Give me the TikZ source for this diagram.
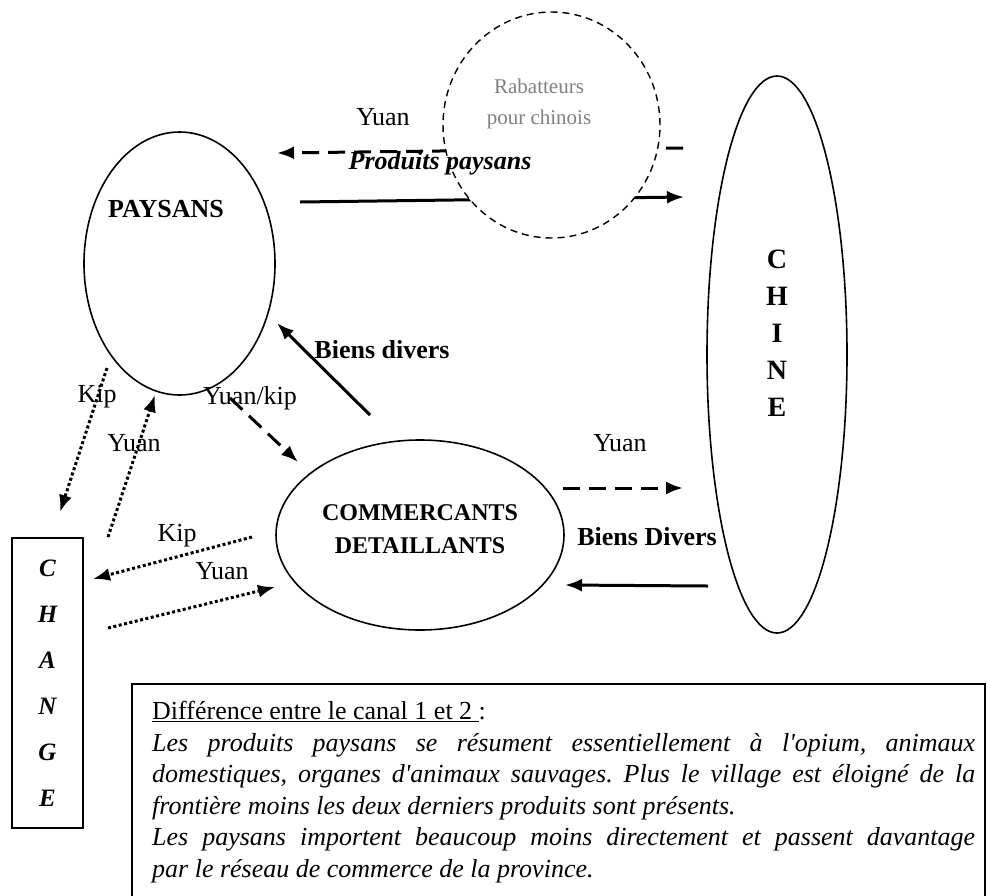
\documentclass[tikz,border=0pt]{standalone}
\usepackage{fontspec}
\setmainfont{Liberation Serif}[Ligatures=TeXOff]
\usetikzlibrary{arrows.meta,shapes.geometric}
\frenchspacing
\tikzset{
  ell/.style={draw, ellipse, line width=1.6pt, inner sep=0pt},
  flow/.style={line width=3pt, -{Latex[length=17pt,width=13pt]}},
  fdash/.style={flow, dash pattern=on 17pt off 9pt},   % yuan flows
  fdot/.style={flow, dash pattern=on 3pt off 2.5pt},   % exchange office flows
  lbl/.style={inner sep=0pt, font=\fontsize{26}{31}\selectfont},
  blbl/.style={inner sep=0pt, font=\fontsize{26}{31}\selectfont\bfseries},
}

\begin{document}
\begin{tikzpicture}[x=1pt, y=-1pt]
  \useasboundingbox (0,0) rectangle (987,895);

  % --- actors ---
  \node[ell, minimum width=191, minimum height=263] (paysans) at (179.5,263.5) {};
  \node[blbl] (paysans-t) at (166,209) {PAYSANS};
  \node[ell, minimum width=288, minimum height=190] (comm) at (420,535) {};
  \node[inner sep=0pt, align=center, font=\fontsize{24}{33}\selectfont\bfseries] (comm-t) at (420,529) {COMMERCANTS\\DETAILLANTS};
  \node[ell, minimum width=140, minimum height=557] (chine) at (777,354.5) {};
  \node[inner sep=0pt, align=center, font=\fontsize{28}{37}\selectfont\bfseries] (chine-t) at (777,333) {C\\H\\I\\N\\E};
  \node[draw, line width=1.6pt, minimum width=71, minimum height=290, inner sep=0pt, align=center,
        font=\fontsize{25}{46}\selectfont\bfseries\itshape] (change) at (47.5,683) {C\\H\\A\\N\\G\\E};

  % --- arrow ends ---
  \coordinate (yt-a) at (683,148);  \coordinate (yt-b) at (277,153);
  \coordinate (pp-a) at (300,202);  \coordinate (pp-b) at (684,197);
  \coordinate (bd-a) at (370,415);  \coordinate (bd-b) at (277,323);
  \coordinate (yk-a) at (230,398);  \coordinate (yk-b) at (298,462);
  \coordinate (kp-a) at (107,368);  \coordinate (kp-b) at (60,512);
  \coordinate (yu-a) at (108,537);  \coordinate (yu-b) at (155,395);
  \coordinate (kc-a) at (252,537);  \coordinate (kc-b) at (93,579);
  \coordinate (yc-a) at (108,628);  \coordinate (yc-b) at (275,587);
  \coordinate (yy-a) at (563,488);  \coordinate (yy-b) at (683,488);
  \coordinate (bv-a) at (708,586);  \coordinate (bv-b) at (565,585);

  % --- flows ---
  \draw[fdash] (yt-a) -- (yt-b);
  \draw[flow]  (pp-a) -- (pp-b);
  \draw[flow]  (bd-a) -- (bd-b);
  \draw[fdash] (yk-a) -- (yk-b);
  \draw[fdot]  (kp-a) -- (kp-b);
  \draw[fdot]  (yu-a) -- (yu-b);
  \draw[fdot]  (kc-a) -- (kc-b);
  \draw[fdot]  (yc-a) -- (yc-b);
  \draw[fdash] (yy-a) -- (yy-b);
  \draw[flow]  (bv-a) -- (bv-b);

  % --- middlemen circle (covers the flows) ---
  \node[draw, ellipse, fill=white, line width=1.4pt, dash pattern=on 7pt off 5pt,
        minimum width=217, minimum height=226] (rabat) at (551.5,125) {};
  \node[inner sep=0pt, align=center, text=black!50, font=\fontsize{21}{31}\selectfont] (rabat-t) at (539,104) {Rabatteurs\\pour chinois};

  % --- labels ---
  \node[lbl] (y-top) at (383,117) {Yuan};
  \node[blbl, font=\fontsize{26}{31}\selectfont\bfseries\itshape] (pp-t) at (440,163) {Produits paysans};
  \node[blbl] (bd-t) at (382,350) {Biens divers};
  \node[lbl] (k-up) at (97,397) {Kip};
  \node[lbl] (y-up) at (134,443) {Yuan};
  \node[lbl] (yk-t) at (250,398) {Yuan/kip};
  \node[lbl] (k-low) at (177,536) {Kip};
  \node[lbl] (y-low) at (222,571) {Yuan};
  \node[lbl] (y-ch) at (620,443) {Yuan};
  \node[blbl] (bv-t) at (647,537) {Biens Divers};

  % --- note ---
  \draw[line width=1.6pt] (132,905) -- (132,684) -- (985,684) -- (985,905);
  \node[anchor=north west, text width=823, align=justify, inner sep=0pt, font=\fontsize{26}{31.6}\selectfont] (note) at (152,701) {%
    \underline{Différence entre le canal 1 et 2 }:\newline
    \itshape Les produits paysans se résument essentiellement à l'opium, animaux\linebreak
    domestiques, organes d'animaux sauvages. Plus le village est éloigné de la\linebreak
    frontière moins les deux derniers produits sont présents.\newline
    Les paysans importent beaucoup moins directement et passent davantage\linebreak
    par le réseau de commerce de la province.};
\end{tikzpicture}
\end{document}
